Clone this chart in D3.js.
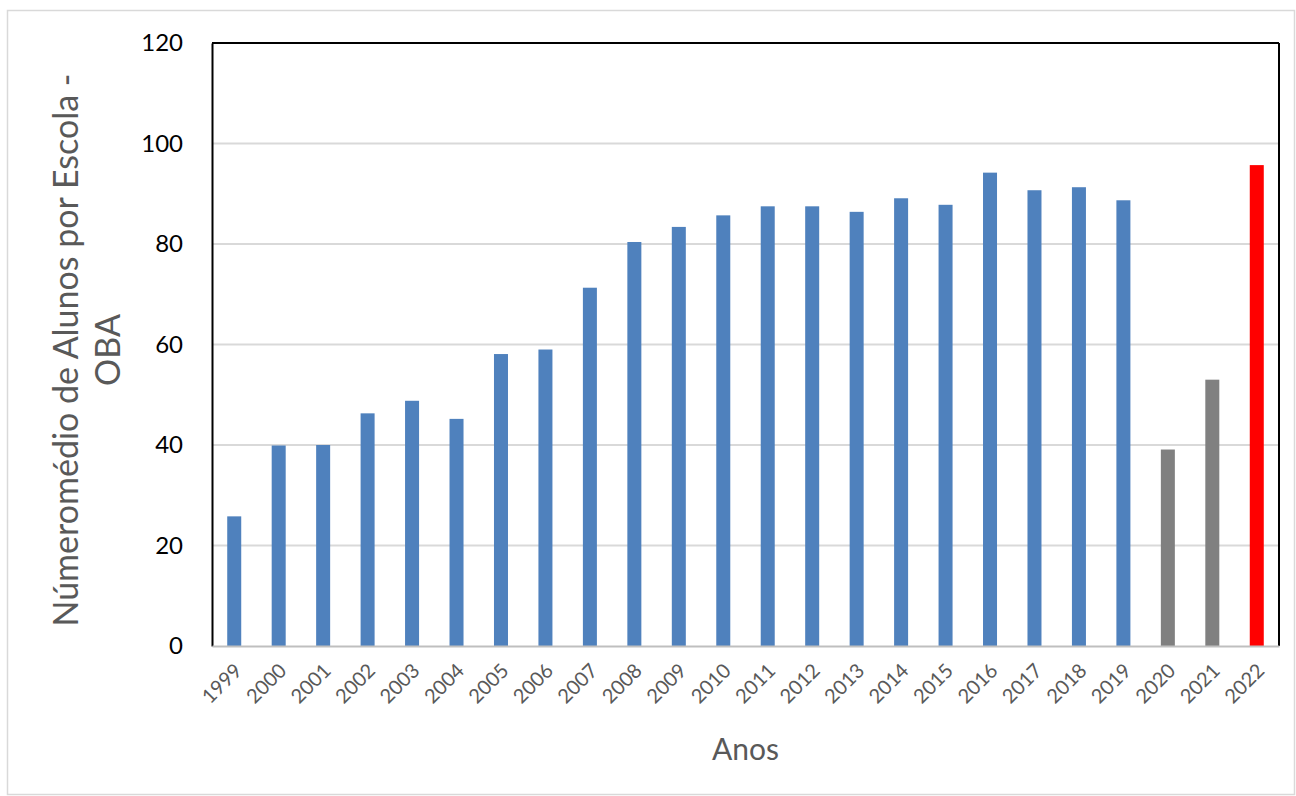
<!DOCTYPE html>
<html>
<head>
<meta charset="utf-8">
<script src="https://cdn.jsdelivr.net/npm/d3@7"></script>
<style>
  html, body { margin: 0; padding: 0; background: #fff; }
  svg { display: block; }
  text { font-family: Lato, "Open Sans", sans-serif; }
</style>
</head>
<body>
<svg id="chart" width="1296" height="796"></svg>
<script>
const years = ["1999","2000","2001","2002","2003","2004","2005","2006","2007","2008","2009","2010","2011","2012","2013","2014","2015","2016","2017","2018","2019","2020","2021","2022"];
const values = [25.8,39.9,40.0,46.3,48.8,45.2,58.1,59.0,71.3,80.4,83.4,85.7,87.5,87.5,86.4,89.1,87.8,94.2,90.7,91.3,88.7,39.1,53.0,95.7];
const barColors = ["#4f81bd","#4f81bd","#4f81bd","#4f81bd","#4f81bd","#4f81bd","#4f81bd","#4f81bd","#4f81bd","#4f81bd","#4f81bd","#4f81bd","#4f81bd","#4f81bd","#4f81bd","#4f81bd","#4f81bd","#4f81bd","#4f81bd","#4f81bd","#4f81bd","#808080","#808080","#ff0000"];
const yTicks = [0,20,40,60,80,100,120];
const yTitleLines = ["Númeromédio de Alunos por Escola -", "OBA"];
const xTitle = "Anos";

const svg = d3.select("#chart");
const pL = 212, pR = 1279, pT = 43, pB = 646;

// outer frame
svg.append("rect").attr("x", 7.5).attr("y", 10.5).attr("width", 1287).attr("height", 784)
  .attr("fill", "#fff").attr("stroke", "#d9d9d9").attr("stroke-width", 1.5);

const x = d3.scaleBand().domain(years).range([pL, pR]).paddingInner(0.685).paddingOuter(0.3425);
const y = d3.scaleLinear().domain([0, 120]).range([pB, pT]);

// gridlines
svg.append("g").selectAll("line").data(yTicks.filter(d => d > 0 && d < 120)).join("line")
  .attr("x1", pL).attr("x2", pR).attr("y1", d => y(d)).attr("y2", d => y(d))
  .attr("stroke", "#d9d9d9").attr("stroke-width", 2);

// bars
svg.append("g").selectAll("rect").data(years).join("rect")
  .attr("x", d => x(d)).attr("width", x.bandwidth())
  .attr("y", (d, i) => y(values[i])).attr("height", (d, i) => y(0) - y(values[i]))
  .attr("fill", (d, i) => barColors[i]);

// plot border: top, right black
svg.append("line").attr("x1", pL).attr("x2", pR).attr("y1", pT).attr("y2", pT).attr("stroke", "#000").attr("stroke-width", 2);
svg.append("line").attr("x1", pR).attr("x2", pR).attr("y1", pT).attr("y2", pB).attr("stroke", "#000").attr("stroke-width", 2);

// y axis
const yAxis = svg.append("g").attr("transform", `translate(${pL},0)`)
  .call(d3.axisLeft(y).tickValues(yTicks).tickSize(0).tickPadding(29).tickFormat(d3.format("d")));
yAxis.select(".domain").attr("stroke", "#000").attr("stroke-width", 2);
yAxis.selectAll("text").attr("font-size", 24).attr("fill", "#000").attr("font-family", "Lato, sans-serif");

// x axis
const xAxis = svg.append("g").attr("transform", `translate(0,${pB})`)
  .call(d3.axisBottom(x).tickSize(0).tickFormat(d => d));
xAxis.select(".domain").attr("stroke", "#bfbfbf").attr("stroke-width", 2);
xAxis.selectAll("text")
  .attr("font-size", 20).attr("fill", "#595959").attr("font-family", "Lato, sans-serif")
  .attr("text-anchor", "end").attr("dy", "0.35em").attr("y", 0)
  .attr("transform", "translate(4,21) rotate(-45)");

// x title
svg.append("text").attr("x", (pL + pR) / 2).attr("y", 760)
  .attr("text-anchor", "middle").attr("font-size", 30).attr("fill", "#595959").text(xTitle);

// y title
const yt = svg.append("text").attr("transform", "translate(66,350) rotate(-90)")
  .attr("text-anchor", "middle").attr("font-size", 34).attr("fill", "#595959");
yt.selectAll("tspan").data(yTitleLines).join("tspan")
  .attr("x", 0).attr("dy", (d, i) => i === 0 ? "0.35em" : "1.25em").text(d => d);
</script>
</body>
</html>
